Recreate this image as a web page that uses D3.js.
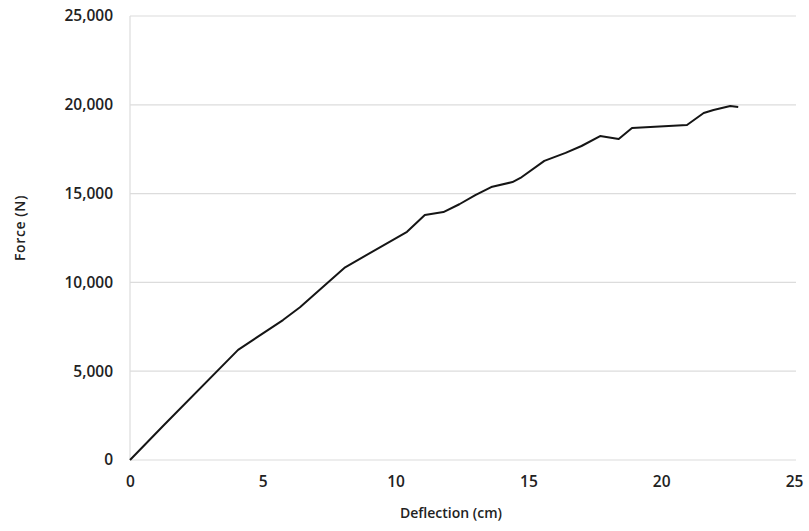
<!DOCTYPE html>
<html><head><meta charset="utf-8">
<script src="https://cdn.jsdelivr.net/npm/d3@7"></script>
<style>body{margin:0;background:#fff}</style>
</head><body><svg id="c" width="809" height="531"></svg>
<script>
const deflection = [0, 1.28, 4.07, 5.76, 6.4, 8.1, 10.43, 11.1, 11.8, 12.4, 13.0, 13.6, 14.4, 14.7, 15.6, 16.4, 17.0, 17.7, 18.4, 18.9, 20.97, 21.6, 21.97, 22.6, 22.9];
const force =      [0, 1970, 6200, 7880, 8600, 10850, 12850, 13800, 13960, 14400, 14920, 15370, 15650, 15880, 16840, 17290, 17680, 18240, 18070, 18690, 18860, 19540, 19710, 19930, 19880];
const xTicks = [0, 5, 10, 15, 20, 25];
const yTicks = [0, 5000, 10000, 15000, 20000, 25000];
const xTitle = "Deflection (cm)";
const yTitle = "Force (N)";

const svg = d3.select("#c");
const font = "'Open Sans', sans-serif";
const x = d3.scaleLinear().domain([0, 25]).range([130, 794]);
const y = d3.scaleLinear().domain([0, 25000]).range([460, 16]);
const fmt = d3.format(",");

// gridlines
svg.append("g").selectAll("line").data(yTicks).join("line")
  .attr("x1", 130).attr("x2", 796).attr("y1", d => y(d)).attr("y2", d => y(d))
  .attr("stroke", "#dcdcdc").attr("stroke-width", 1.2);
// left axis line
svg.append("line").attr("x1", 130).attr("x2", 130).attr("y1", y(25000)).attr("y2", y(0))
  .attr("stroke", "#dcdcdc").attr("stroke-width", 1.2);

// y axis labels
const ya = svg.append("g").attr("transform", "translate(130,0)")
  .call(d3.axisLeft(y).tickValues(yTicks).tickFormat(fmt).tickSize(0).tickPadding(17));
ya.select(".domain").remove();
ya.selectAll("text").attr("font-family", font).attr("font-weight", 600).attr("font-size", 15.5).attr("fill", "#222");

const xa = svg.append("g").attr("transform", "translate(0,460)")
  .call(d3.axisBottom(x).tickValues(xTicks).tickFormat(d3.format("d")).tickSize(0).tickPadding(16));
xa.select(".domain").remove();
xa.selectAll("text").attr("font-family", font).attr("font-weight", 600).attr("font-size", 15.5).attr("fill", "#222");

// titles
svg.append("text").attr("x", 451).attr("y", 518).attr("text-anchor", "middle")
  .attr("font-family", font).attr("font-weight", 600).attr("font-size", 14).attr("fill", "#222").text(xTitle);
svg.append("text").attr("transform", "translate(25,228) rotate(-90)").attr("text-anchor", "middle")
  .attr("font-family", font).attr("font-weight", 600).attr("font-size", 14).attr("letter-spacing", 0.6).attr("fill", "#222").text(yTitle);

// line
const data = deflection.map((d, i) => [d, force[i]]);
svg.append("path").datum(data)
  .attr("fill", "none").attr("stroke", "#151515").attr("stroke-width", 2).attr("stroke-linejoin", "round")
  .attr("d", d3.line().x(d => x(d[0])).y(d => y(d[1])));
</script></body></html>
